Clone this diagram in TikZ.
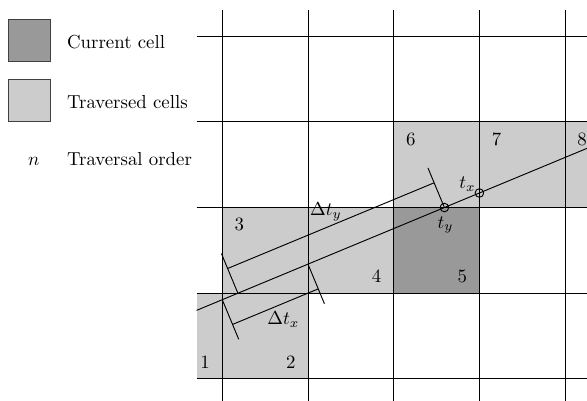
\documentclass[tikz,border=0pt]{standalone}
\usetikzlibrary{calc}
\begin{document}
\begin{tikzpicture}[x=1.6cm,y=1.6cm, line width=0.5pt,
  trav/.style={fill=black!20},
  curr/.style={fill=black!40},
  legbox/.style={draw=black!75},
  lbl/.style={inner sep=0pt},
  legtext/.style={anchor=base west, inner sep=0pt},
]
\useasboundingbox (-2.594,-0.257) rectangle (4.256,4.422);
% traversed / current cells
\fill[trav] (-0.3,0) rectangle (1,1);
\fill[trav] (0,1) rectangle (2,2);
\fill[curr] (2,1) rectangle (3,2);
\fill[trav] (2,2) rectangle (4.3,3);
% grid
\foreach \y in {0,...,4} \draw (-0.3,\y) -- (4.3,\y);
\foreach \x in {0,...,4} \draw (\x,-0.3) -- (\x,4.3);
% ray
\coordinate (S) at (-0.3,0.8);
\coordinate (E) at (4.3,2.709);
\coordinate (X0) at (0,0.9245);
\coordinate (Y1) at (0.182,1);
\coordinate (X1) at (1,1.3395);
\coordinate (Y2) at (2.592,2);
\coordinate (X3) at (3,2.1695);
\draw (S) -- (E);
% delta t_y bracket
\draw (Y1) -- ($(Y1)!0.8cm!90:(Y2)$);
\draw (Y2) -- ($(Y2)!0.8cm!-90:(Y1)$);
\draw ($(Y1)!0.5cm!90:(Y2)$) -- ($(Y2)!0.5cm!-90:(Y1)$);
% delta t_x bracket
\draw (X0) -- ($(X0)!0.8cm!-90:(X1)$);
\draw (X1) -- ($(X1)!0.8cm!90:(X0)$);
\draw ($(X0)!0.5cm!-90:(X1)$) -- ($(X1)!0.5cm!90:(X0)$);
% intersection circles
\draw (Y2) circle[radius=0.05];
\draw (X3) circle[radius=0.05];
% labels
\node[lbl] (ldy) at (1.21,1.95) {$\Delta t_y$};
\node[lbl] (ldx) at (0.712,0.688) {$\Delta t_x$};
\node[lbl] (ltx) at (2.861,2.275) {$t_x$};
\node[lbl] (lty) at (2.605,1.797) {$t_y$};
% order numbers
\node[lbl] (n1) at (-0.2,0.2) {1};
\node[lbl] (n2) at (0.8,0.2) {2};
\node[lbl] (n3) at (0.2,1.8) {3};
\node[lbl] (n4) at (1.8,1.2) {4};
\node[lbl] (n5) at (2.8,1.2) {5};
\node[lbl] (n6) at (2.2,2.8) {6};
\node[lbl] (n7) at (3.2,2.8) {7};
\node[lbl] (n8) at (4.2,2.8) {8};
% legend
\draw[legbox,curr] (-2.5,3.7) rectangle (-2.0,4.2);
\draw[legbox,trav] (-2.5,3.0) rectangle (-2.0,3.5);
\node[legtext] (tc) at (-1.816,3.858) {Current cell};
\node[legtext] (tt) at (-1.816,3.158) {Traversed cells};
\node[lbl] (tn) at (-2.2,2.54) {$n$};
\node[legtext] (to) at (-1.816,2.485) {Traversal order};
\end{tikzpicture}
\end{document}
